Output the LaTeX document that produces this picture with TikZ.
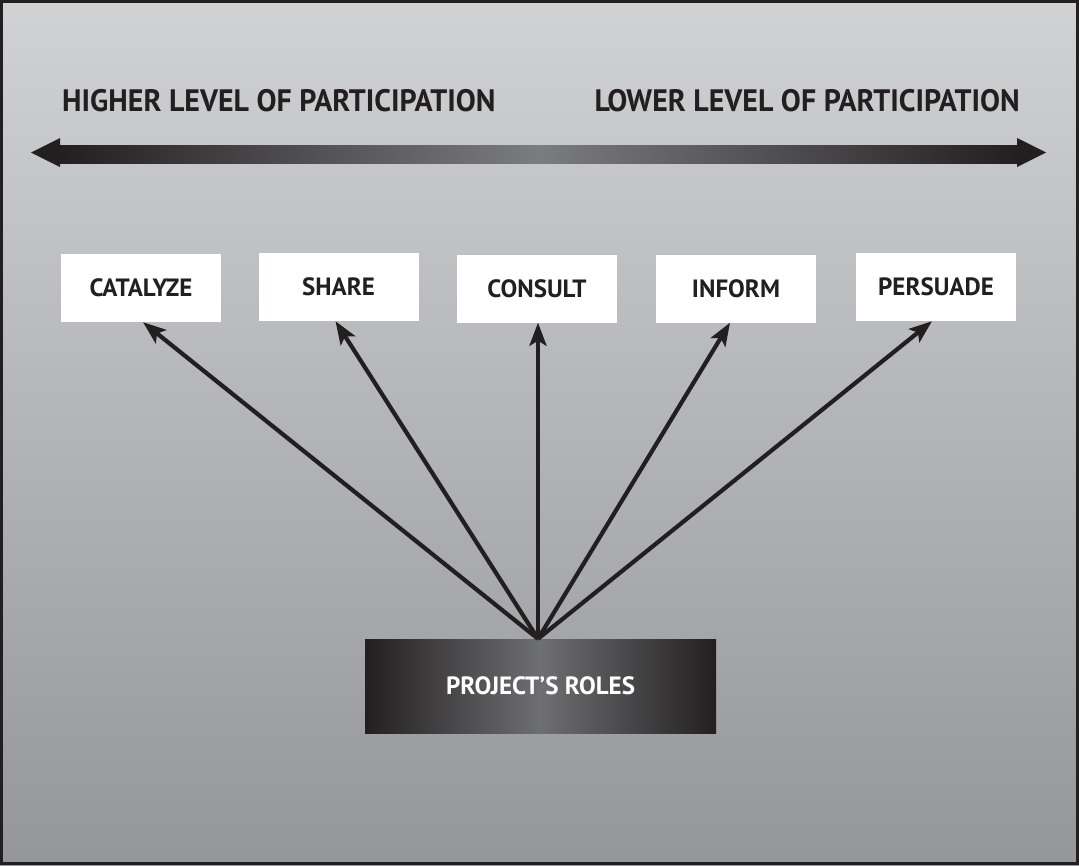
\documentclass[tikz,border=0pt]{standalone}
\usepackage{fontspec}
\setmainfont{PT Sans}
\usetikzlibrary{arrows.meta}
\definecolor{ink}{HTML}{231F20}
\definecolor{bgtop}{HTML}{D1D2D4}
\definecolor{bgbot}{HTML}{95969A}
\definecolor{barmid}{HTML}{7B7C7F}
\definecolor{rolemid}{HTML}{6E6F72}
\tikzset{
  heading/.style={inner sep=0pt, text=ink, font=\bfseries\fontsize{31}{31}\selectfont},
  rolebox/.style={fill=white, minimum width=160pt, minimum height=68pt, inner sep=0pt,
    text=ink, font=\bfseries\fontsize{25}{25}\selectfont, text depth=0pt},
  hubbox/.style={minimum width=351pt, minimum height=94pt, inner sep=0pt,
    left color=ink, right color=ink, middle color=rolemid,
    text=white, font=\bfseries\fontsize{25}{25}\selectfont, text depth=0pt},
  spoke/.style={draw=ink, line width=4.2pt,
    -{Stealth[length=23pt,width=17pt,inset=5pt]}},
}
\newcommand{\squeeze}[1]{\scalebox{0.965}[1]{#1}}
\begin{document}
\begin{tikzpicture}[x=1pt,y=-1pt]
  % page background and frame
  \useasboundingbox (0,0) rectangle (1079,865);
  \shade[top color=bgtop, bottom color=bgbot] (0,0) rectangle (1079,865);
  \draw[ink, line width=3pt] (1.5,1.5) rectangle (1077.5,863.5);

  % participation scale
  \node[heading, anchor=base west] (high) at (62,111) {\squeeze{HIGHER LEVEL OF PARTICIPATION}};
  \node[heading, anchor=base east] (low) at (1020,111) {\squeeze{LOWER LEVEL OF PARTICIPATION}};
  \shade[left color=ink, right color=ink, middle color=barmid] (59,145) rectangle (1018,163);
  \fill[ink] (31,152.5) -- (60,138) -- (60,167) -- cycle;
  \fill[ink] (1046,152.5) -- (1017,138) -- (1017,167) -- cycle;

  % roles
  \node[rolebox] (cat) at (141,288) {CATALYZE};
  \node[rolebox] (share) at (338.5,287) {SHARE};
  \node[rolebox] (consult) at (537,288.5) {CONSULT};
  \node[rolebox] (inform) at (736,288.5) {INFORM};
  \node[rolebox] (persuade) at (936,287) {PERSUADE};

  \node[hubbox] (roles) at (540.5,686) {PROJECT’S ROLES};

  % connectors
  \draw[spoke] ([xshift=-2.5pt]roles.north) -- ([xshift=2pt]cat.south);
  \draw[spoke] ([xshift=-2.5pt]roles.north) -- ([xshift=-3pt]share.south);
  \draw[spoke] ([xshift=-2.5pt]roles.north) -- ([xshift=1pt]consult.south);
  \draw[spoke] ([xshift=-2.5pt]roles.north) -- ([xshift=-6pt]inform.south);
  \draw[spoke] ([xshift=-2.5pt]roles.north) -- ([xshift=-4pt]persuade.south);
\end{tikzpicture}
\end{document}
